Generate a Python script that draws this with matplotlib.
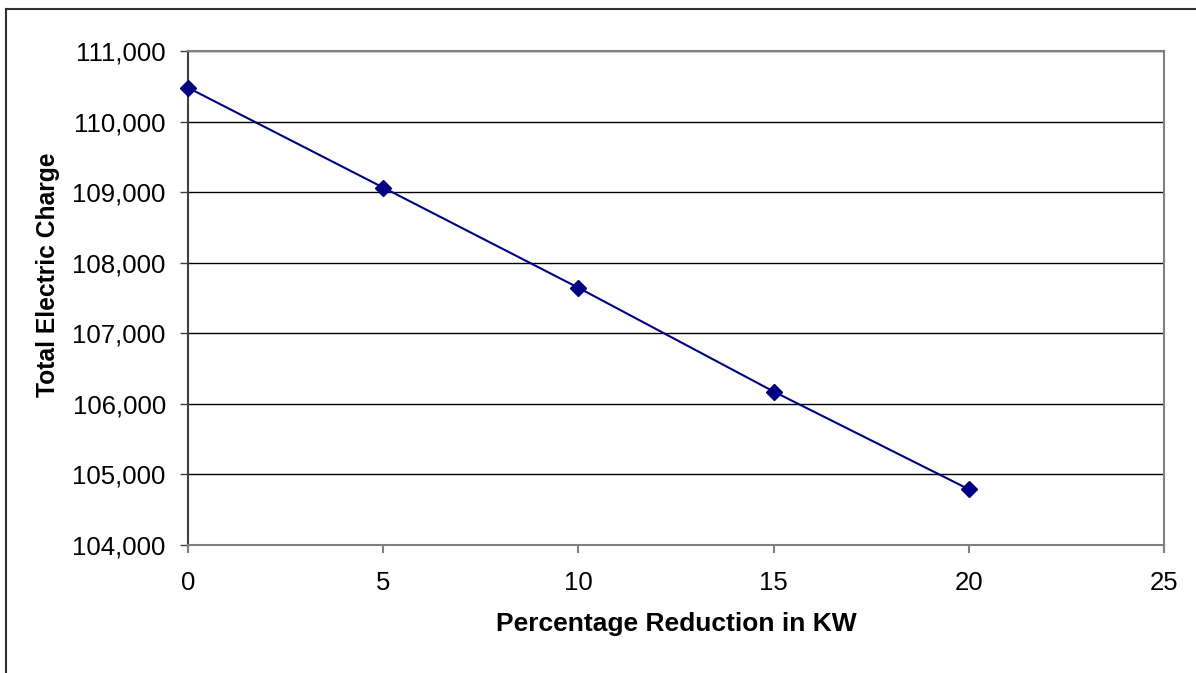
"""Total electric charge versus percentage reduction in KW."""

import matplotlib

matplotlib.use("Agg")
import matplotlib.pyplot as plt
from matplotlib.lines import Line2D
from matplotlib.ticker import FuncFormatter, MultipleLocator

reduction_pct = [0, 5, 10, 15, 20]
total_charge = [110480, 109065, 107645, 106175, 104790]

x_ticks = [0, 5, 10, 15, 20, 25]
y_min, y_max = 104000, 111000

plt.rcParams["font.family"] = ["Liberation Sans", "DejaVu Sans"]

fig = plt.figure(figsize=(11.96, 6.73), dpi=100)
ax = fig.add_axes([0.1572, 0.1902, 0.8160, 0.7340])

ax.plot(reduction_pct, total_charge, color="#000080", linewidth=1.5,
        marker="D", markersize=8, markerfacecolor="#000080",
        markeredgecolor="#000080", zorder=3, clip_on=False)

ax.set_xlim(0, 25)
ax.set_ylim(y_min, y_max)
ax.set_xticks(x_ticks)
ax.yaxis.set_major_locator(MultipleLocator(1000))
ax.yaxis.set_major_formatter(FuncFormatter(lambda v, _: f"{int(v):,}"))

# horizontal gridlines only
ax.grid(axis="y", color="black", linewidth=1.0)
ax.set_axisbelow(True)

for side in ("top", "right", "bottom"):
    ax.spines[side].set_color("#808080")
    ax.spines[side].set_linewidth(1.5)
ax.spines["left"].set_color("#404040")
ax.spines["left"].set_linewidth(1.5)

ax.tick_params(axis="x", direction="out", length=6, width=1.5, color="#808080",
               pad=13, labelsize=18.5)
ax.tick_params(axis="y", direction="out", length=6, width=1.0, color="#404040",
               pad=10, labelsize=18.5)

ax.set_xlabel("Percentage Reduction in KW", fontsize=19, fontweight="bold", labelpad=12)
ax.set_ylabel("Total Electric Charge", fontsize=17.7, fontweight="bold")
ax.yaxis.set_label_coords(-0.131, 0.547)

# chart area frame, running off the right and bottom edges
frame_x = 6 / 1196
frame_y = 1 - 9 / 673
fig.add_artist(Line2D([frame_x, frame_x], [0, frame_y], transform=fig.transFigure,
                      color="#303030", linewidth=1.5))
fig.add_artist(Line2D([frame_x, 1], [frame_y, frame_y], transform=fig.transFigure,
                      color="#303030", linewidth=1.5))

fig.savefig("out.png", dpi=100, facecolor="white")
plt.close(fig)
